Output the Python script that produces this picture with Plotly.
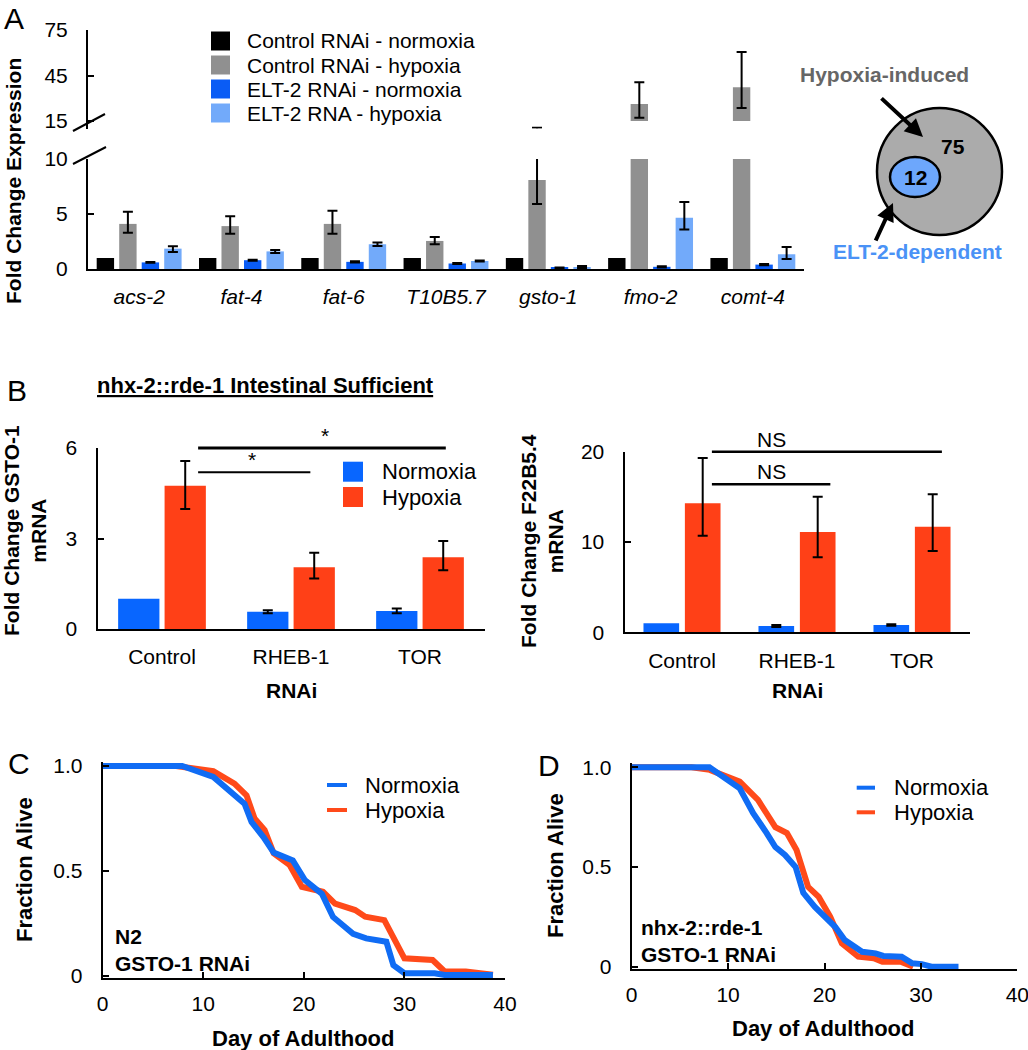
import plotly.graph_objects as go

W, H = 1028, 1050
FONT = "Arial, 'Liberation Sans', sans-serif"

# ---- panel A: fold change of hypoxia-induced genes
genes = ["acs-2", "fat-4", "fat-6", "T10B5.7", "gsto-1", "fmo-2", "comt-4"]
a_names = ["Control RNAi - normoxia", "Control RNAi - hypoxia",
           "ELT-2 RNAi - normoxia", "ELT-2 RNA - hypoxia"]
a_colors = ["#000000", "#909090", "#0A5CF5", "#72AAFA"]
ctrl_norm = [1, 1, 1, 1, 1, 1, 1]
ctrl_hyp = [4.1, 3.9, 4.1, 2.55, 8.1, 26.2, 37.2]
ctrl_hyp_hi = [5.2, 4.8, 5.3, 2.9, 10.5, 40.5, 60.5]
ctrl_hyp_lo = [3.3, 3.2, 3.2, 2.25, 5.9, 17.2, 23.6]
elt2_norm = [0.6, 0.8, 0.65, 0.5, 0.1, 0.2, 0.4]
elt2_norm_hi = [0.64, 0.85, 0.7, 0.54, 0.14, 0.26, 0.45]
elt2_norm_lo = [0.56, 0.75, 0.6, 0.46, 0.06, 0.14, 0.35]
elt2_hyp = [1.85, 1.6, 2.25, 0.73, 0.15, 4.66, 1.34]
elt2_hyp_hi = [2.06, 1.72, 2.4, 0.78, 0.28, 6.1, 2.0]
elt2_hyp_lo = [1.55, 1.45, 2.1, 0.68, 0.08, 3.6, 0.9]
a_break = 15
venn_induced = 75
venn_elt2 = 12

# ---- panel B: nhx-2::rde-1, GSTO-1 and F22B5.4 mRNA
b_groups = ["Control", "RHEB-1", "TOR"]
b_names = ["Normoxia", "Hypoxia"]
b_colors = ["#0866FF", "#FF4017"]
gsto_norm = [1.0, 0.57, 0.6]
gsto_norm_hi = [None, 0.62, 0.68]
gsto_norm_lo = [None, 0.52, 0.52]
gsto_hyp = [4.75, 2.05, 2.38]
gsto_hyp_hi = [5.57, 2.53, 2.92]
gsto_hyp_lo = [3.98, 1.67, 1.95]
f22_norm = [1.0, 0.7, 0.8]
f22_norm_hi = [None, 0.8, 0.88]
f22_norm_lo = [None, 0.6, 0.72]
f22_hyp = [14.3, 11.1, 11.7]
f22_hyp_hi = [19.3, 15.0, 15.3]
f22_hyp_lo = [10.7, 8.3, 9.0]
gsto_sig_from = [0.28, 0.28]
gsto_sig_to = [2.2, 1.15]
gsto_sig_h = [6.0, 5.2]
gsto_sig_tx = [1.26, 0.7]
gsto_sig_txt = ["*", "*"]
f22_sig_from = [0.26, 0.26]
f22_sig_to = [2.26, 1.29]
f22_sig_h = [20.0, 16.4]
f22_sig_tx = [0.78, 0.78]
f22_sig_txt = ["NS", "NS"]

# ---- panels C / D: survival
c_norm_day = [0, 7.9, 11, 14.1, 14.8, 16, 17, 18.9, 20.1, 21.8, 22.9, 24.9, 26.2, 28.2,
              28.9, 30, 33, 34, 38.8]
c_norm_frac = [1, 1, 0.948, 0.82, 0.733, 0.66, 0.587, 0.55, 0.456, 0.39, 0.28, 0.2, 0.178,
               0.162, 0.05, 0.012, 0.012, 0.003, 0.003]
c_hyp_day = [0, 7.3, 11, 13.1, 14.3, 15.1, 16.1, 17, 18.6, 19.8, 21.9, 23.1, 25.1, 26.1,
             28, 29.2, 30, 32.8, 34, 36.1, 38.8]
c_hyp_frac = [1, 1, 0.975, 0.916, 0.86, 0.75, 0.694, 0.583, 0.527, 0.424, 0.4, 0.344,
              0.313, 0.281, 0.265, 0.146, 0.083, 0.075, 0.02, 0.02, 0.005]
d_norm_day = [0, 8.06, 11.2, 12.6, 14, 14.9, 15.9, 17, 17.8, 19, 21.1, 22.1, 23.9, 25.3,
              26.1, 28, 29.1, 30.1, 31.1, 33.9]
d_norm_frac = [1, 1, 0.895, 0.77, 0.67, 0.6, 0.56, 0.5, 0.37, 0.3, 0.2, 0.134, 0.075,
               0.067, 0.054, 0.05, 0.017, 0.013, 0, 0]
d_hyp_day = [0, 6.2, 8.1, 11.2, 13.1, 14.9, 16.1, 17.1, 18.3, 19.4, 20.6, 21.8, 23.5,
             25.1, 26, 27.9, 29.2]
d_hyp_frac = [1, 1, 0.987, 0.928, 0.836, 0.7, 0.67, 0.585, 0.4, 0.35, 0.25, 0.117, 0.05,
              0.042, 0.025, 0.025, 0]
line_blue = "#106CF4"
line_red = "#FF4A1A"

fig = go.Figure()
shapes = []
annos = []


def P(x, y):
    # pixel position -> paper coords
    return x / W, 1 - y / H


def xdom(x0, x1):
    return [x0 / W, x1 / W]


def ydom(top, bot):
    return [1 - bot / H, 1 - top / H]


def ydom_fit(p_lo, p_hi, v_lo, v_hi, r_lo, r_hi):
    scale = (p_lo - p_hi) / (v_hi - v_lo)
    return ydom(p_hi - (r_hi - v_hi) * scale, p_lo + (v_lo - r_lo) * scale)


def text(x, y, s, size=21, color="black", bold=False, anchor="center", angle=0):
    a, b = P(x, y)
    annos.append(dict(xref="paper", yref="paper", x=a, y=b, showarrow=False,
                      text=f"<b>{s}</b>" if bold else s, xanchor=anchor, yanchor="middle",
                      align=anchor if anchor != "center" else "center",
                      textangle=angle, font=dict(family=FONT, size=size, color=color)))


def box(x0, y0, x1, y1, color):
    a, b = P(x0, y0)
    c, d = P(x1, y1)
    shapes.append(dict(type="rect", xref="paper", yref="paper", x0=a, y0=b, x1=c, y1=d,
                       fillcolor=color, line=dict(width=0)))


def seg(x0, y0, x1, y1, color="black", width=2):
    a, b = P(x0, y0)
    c, d = P(x1, y1)
    shapes.append(dict(type="line", xref="paper", yref="paper", x0=a, y0=b, x1=c, y1=d,
                       line=dict(color=color, width=width)))


def arrow(x0, y0, x1, y1):
    a, b = P(x1, y1)
    annos.append(dict(xref="paper", yref="paper", x=a, y=b, ax=x0 - x1, ay=y0 - y1,
                      text="", showarrow=True, arrowhead=2, arrowsize=0.9, arrowwidth=4,
                      arrowcolor="black"))


def add_bars(vals, color, off, width, xa, ya, base=None):
    fig.add_trace(go.Bar(x=[i + off for i in range(len(vals))], y=vals, base=base,
                         width=width, marker=dict(color=color, line=dict(width=0)),
                         xaxis=xa, yaxis=ya, hoverinfo="skip"))


def add_err(vals, hi, lo, off, xa, ya):
    keep = [i for i in range(len(vals)) if hi[i] is not None]
    fig.add_trace(go.Scatter(
        x=[i + off for i in keep], y=[vals[i] for i in keep], mode="markers",
        marker=dict(size=1, color="rgba(0,0,0,0)"), xaxis=xa, yaxis=ya, hoverinfo="skip",
        error_y=dict(type="data", symmetric=False,
                     array=[hi[i] - vals[i] for i in keep],
                     arrayminus=[vals[i] - lo[i] for i in keep],
                     color="black", thickness=2, width=5)))


def ax(domain, rng, **kw):
    d = dict(domain=domain, range=rng, showline=True, linecolor="black", linewidth=2,
             showgrid=False, zeroline=False, ticks="inside", ticklen=6, tickwidth=2,
             tickcolor="black", tickfont=dict(family=FONT, size=21, color="black"),
             fixedrange=True, automargin=False, ticklabeloverflow="allow")
    d.update(kw)
    return d


# ================= panel A
a_off = [-0.33, -0.11, 0.11, 0.33]
a_vals = [ctrl_norm, ctrl_hyp, elt2_norm, elt2_hyp]
a_hi = [None, ctrl_hyp_hi, elt2_norm_hi, elt2_hyp_hi]
a_lo = [None, ctrl_hyp_lo, elt2_norm_lo, elt2_hyp_lo]
for k in range(4):
    add_bars(a_vals[k], a_colors[k], a_off[k], 0.17, "x", "y")
for k in range(1, 4):
    add_err(a_vals[k], a_hi[k], a_lo[k], a_off[k], "x", "y")
# upper part of the broken axis
add_bars([v - a_break if v > a_break else None for v in ctrl_hyp], a_colors[1], a_off[1],
         0.17, "x2", "y2", base=a_break)
add_err(ctrl_hyp, ctrl_hyp_hi, ctrl_hyp_lo, a_off[1], "x2", "y2")

text(14, 19, "A", size=30)
text(13, 181, "Fold Change Expression", bold=True, angle=-90)
for k, name in enumerate(a_names):
    yc = 41 + 24 * k
    box(211, yc - 9.5, 230, yc + 9.5, a_colors[k])
    text(245, yc, name, size=21, anchor="left")
seg(73, 131, 105, 114)
seg(73, 164, 106, 147)

# Venn diagram
a, b = P(877, 235)
c, d = P(1002, 108)
shapes.append(dict(type="circle", xref="paper", yref="paper", x0=a, y0=b, x1=c, y1=d,
                   fillcolor="#ABABAB", line=dict(color="black", width=2.5)))
a, b = P(890, 197)
c, d = P(940, 157)
shapes.append(dict(type="circle", xref="paper", yref="paper", x0=a, y0=b, x1=c, y1=d,
                   fillcolor="#6DA7FC", line=dict(color="black", width=2.5)))
text(953, 146, str(venn_induced), bold=True)
text(915, 177, str(venn_elt2), bold=True)
text(884, 75, "Hypoxia-induced", bold=True, color="#666666")
text(917, 251, "ELT-2-dependent", bold=True, color="#4A92F6")
arrow(880, 97, 923, 137)
arrow(875, 242, 893, 203)

# ================= panel B
b_off = [-0.18, 0.18]
add_bars(gsto_norm, b_colors[0], b_off[0], 0.32, "x3", "y3")
add_bars(gsto_hyp, b_colors[1], b_off[1], 0.32, "x3", "y3")
add_err(gsto_norm, gsto_norm_hi, gsto_norm_lo, b_off[0], "x3", "y3")
add_err(gsto_hyp, gsto_hyp_hi, gsto_hyp_lo, b_off[1], "x3", "y3")
add_bars(f22_norm, b_colors[0], b_off[0], 0.31, "x4", "y4")
add_bars(f22_hyp, b_colors[1], b_off[1], 0.31, "x4", "y4")
add_err(f22_norm, f22_norm_hi, f22_norm_lo, b_off[0], "x4", "y4")
add_err(f22_hyp, f22_hyp_hi, f22_hyp_lo, b_off[1], "x4", "y4")


def sig(xa, ya, ymax, x0s, x1s, hs, txs, txts, widths):
    for x0, x1, h, tx, t, w in zip(x0s, x1s, hs, txs, txts, widths):
        shapes.append(dict(type="line", xref=xa, yref=ya + " domain", x0=x0, x1=x1,
                           y0=h / ymax, y1=h / ymax, line=dict(color="black", width=w)))
        annos.append(dict(xref=xa, yref=ya + " domain", x=tx, y=h / ymax, text=t,
                          showarrow=False, yanchor="bottom", yshift=-1,
                          font=dict(family=FONT, size=21, color="black")))


sig("x3", "y3", 6, gsto_sig_from, gsto_sig_to, gsto_sig_h, gsto_sig_tx, gsto_sig_txt, [3, 2])
sig("x4", "y4", 20, f22_sig_from, f22_sig_to, f22_sig_h, f22_sig_tx, f22_sig_txt, [2.5, 2.5])

text(17, 390, "B", size=30)
text(265, 385, "<u>nhx-2::rde-1 Intestinal Sufficient</u>", size=22, bold=True)
text(25, 531, "Fold Change GSTO-1<br>mRNA", bold=True, angle=-90)
text(542, 541, "Fold Change F22B5.4<br>mRNA", bold=True, angle=-90)
text(291, 690, "RNAi", bold=True)
text(797, 690, "RNAi", bold=True)
for k, name in enumerate(b_names):
    yc = 471.7 + 25.3 * k
    box(343, yc - 10, 363, yc + 10, b_colors[k])
    text(380, yc, name, size=22, anchor="left")

# ================= panels C / D
for xa, ya, days, fr, col in [("x5", "y5", c_hyp_day, c_hyp_frac, line_red),
                              ("x5", "y5", c_norm_day, c_norm_frac, line_blue),
                              ("x6", "y6", d_hyp_day, d_hyp_frac, line_red),
                              ("x6", "y6", d_norm_day, d_norm_frac, line_blue)]:
    fig.add_trace(go.Scatter(x=days, y=fr, mode="lines", line=dict(color=col, width=6),
                             cliponaxis=False, xaxis=xa, yaxis=ya, hoverinfo="skip"))

text(19, 763, "C", size=30)
text(24, 870, "Fraction Alive", bold=True, size=22, angle=-90)
text(303, 1038, "Day of Adulthood", bold=True, size=22)
text(113, 949.5, "N2<br>GSTO-1 RNAi", bold=True, anchor="left")
for k, (name, col) in enumerate([("Normoxia", line_blue), ("Hypoxia", line_red)]):
    yc = 785 + 25 * k
    seg(327, yc, 347, yc, col, 4)
    text(363, yc, name, size=22, anchor="left")

text(549, 765, "D", size=30)
text(555, 866, "Fraction Alive", bold=True, size=22, angle=-90)
text(823, 1028, "Day of Adulthood", bold=True, size=22)
text(639, 941, "nhx-2::rde-1<br>GSTO-1 RNAi", bold=True, anchor="left")
for k, (name, col) in enumerate([("Normoxia", line_blue), ("Hypoxia", line_red)]):
    yc = 787.7 + 24.6 * k
    seg(856.7, yc, 875, yc, col, 4)
    text(891.7, yc, name, size=22, anchor="left")

cat_x = dict(ticks="", tickvals=list(range(3)), ticktext=b_groups, ticklabelstandoff=8)
fig.update_layout(
    width=W, height=H, margin=dict(l=0, r=0, t=0, b=0, autoexpand=False), autosize=False,
    paper_bgcolor="white", plot_bgcolor="white", showlegend=False, barmode="overlay",
    font=dict(family=FONT, size=21, color="black"),
    xaxis=ax(xdom(88, 804), [-0.5, 6.5], anchor="y", ticks="", tickvals=list(range(7)),
             ticktext=[f"<i>{g}</i>" for g in genes], ticklabelstandoff=8),
    yaxis=ax(ydom(159, 269), [0, 10], anchor="x", tickvals=[0, 5, 10], ticklabelstandoff=14),
    xaxis2=ax(xdom(88, 804), [-0.5, 6.5], anchor="y2", visible=False),
    yaxis2=ax(ydom_fit(121, 30, 15, 75, 10, 75), [10, 75], anchor="x2",
              tickvals=[15, 45, 75], ticklabelstandoff=14),
    xaxis3=ax(xdom(97.5, 484.5), [-0.5, 2.5], anchor="y3", **cat_x),
    yaxis3=ax(ydom(448, 629), [0, 6], anchor="x3", tickvals=[0, 3, 6], ticklabelstandoff=14),
    xaxis4=ax(xdom(624.5, 969.5), [-0.5, 2.5], anchor="y4", **cat_x),
    yaxis4=ax(ydom(451.7, 632.3), [0, 20], anchor="x4", tickvals=[0, 10, 20],
              ticklabelstandoff=14),
    xaxis5=ax(xdom(102.7, 505), [0, 40], anchor="y5", tickvals=[0, 10, 20, 30, 40],
              ticklabelstandoff=6),
    yaxis5=ax(ydom_fit(975.7, 766, 0, 1, -0.012, 1.02), [-0.012, 1.02], anchor="x5",
              tickvals=[0, 0.5, 1], ticktext=["0", "0.5", "1.0"], ticklabelstandoff=14),
    xaxis6=ax(xdom(631.7, 1017.3), [0, 40], anchor="y6", tickvals=[0, 10, 20, 30, 40],
              ticklabelstandoff=6),
    yaxis6=ax(ydom_fit(966.7, 767.3, 0, 1, -0.012, 1.02), [-0.012, 1.02], anchor="x6",
              tickvals=[0, 0.5, 1], ticktext=["0", "0.5", "1.0"], ticklabelstandoff=14),
    shapes=shapes, annotations=annos,
)

# the page body has an 8px default margin; drop it so the figure sits at 0,0
fig.write_html("out.html", config={"displayModeBar": False},
               post_script="document.body.style.margin = '0';")
